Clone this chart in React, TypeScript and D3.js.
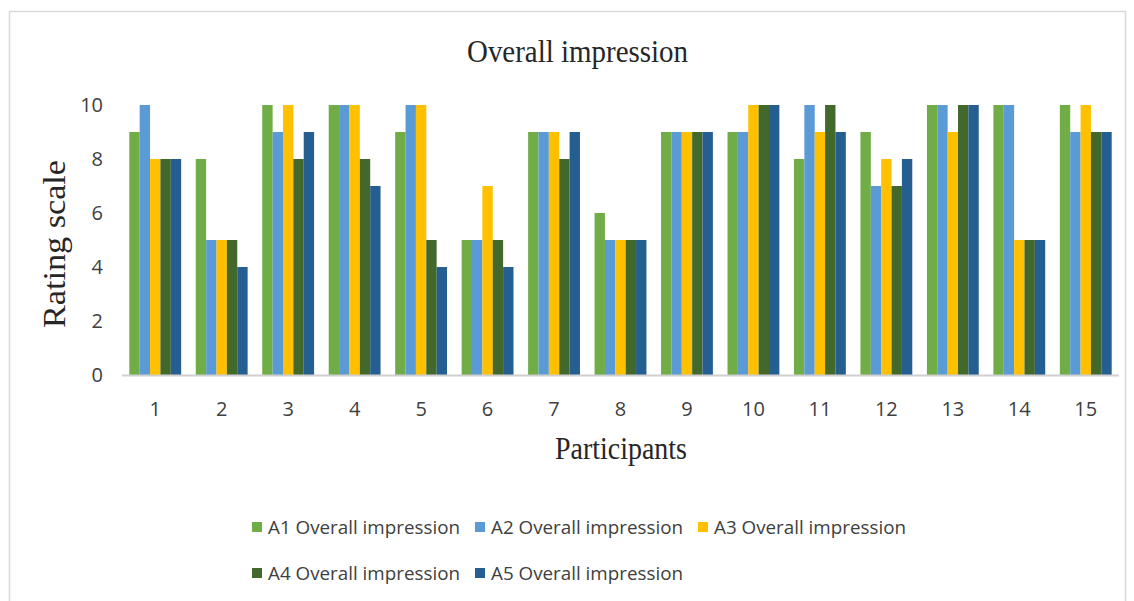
import React from "react";
import * as d3 from "d3";

const participants = ["1","2","3","4","5","6","7","8","9","10","11","12","13","14","15"];
const seriesNames = ["A1 Overall impression","A2 Overall impression","A3 Overall impression","A4 Overall impression","A5 Overall impression"];
const a1 = [9, 8, 10, 10, 9, 5, 9, 6, 9, 9, 8, 9, 10, 10, 10];
const a2 = [10, 5, 9, 10, 10, 5, 9, 5, 9, 9, 10, 7, 10, 10, 9];
const a3 = [8, 5, 10, 10, 10, 7, 9, 5, 9, 10, 9, 8, 9, 5, 10];
const a4 = [8, 5, 8, 8, 5, 5, 8, 5, 9, 10, 10, 7, 10, 5, 9];
const a5 = [8, 4, 9, 7, 4, 4, 9, 5, 9, 10, 9, 8, 10, 5, 9];
const yTicks = [0, 2, 4, 6, 8, 10];
const colors = ["#70ad47", "#5b9bd5", "#ffc000", "#43682b", "#255e91"];

const W = 1134, H = 601;
const sans = "'Open Sans', 'Liberation Sans', sans-serif";
const serif = "'Liberation Serif', 'DejaVu Serif', serif";

export default function App() {
  const series = [a1, a2, a3, a4, a5];
  const x = d3.scaleBand<string>().domain(participants).range([122, 1119]).paddingInner(0.22).paddingOuter(0.11);
  const xi = d3.scaleBand<number>().domain(d3.range(5)).range([0, x.bandwidth()]);
  const y = d3.scaleLinear().domain([0, 10]).range([375, 105]);

  const legendRows = [
    [{ i: 0, x: 252 }, { i: 1, x: 475 }, { i: 2, x: 698 }],
    [{ i: 3, x: 252 }, { i: 4, x: 475 }],
  ];
  const legendY = [527, 573];

  return (
    <svg width={W} height={H} style={{ position: "absolute", left: 0, top: 0, background: "#fff" }}>
      <rect x={0} y={0} width={W} height={H} fill="#fff" />
      <path d={`M9.5,${H} V11.5 H1125.5 V${H}`} fill="none" stroke="#d9d9d9" strokeWidth={1.5} />
      <text x={577.5} y={62} textAnchor="middle" fontFamily={serif} fontSize={32} fill="#262626" textLength={221} lengthAdjust="spacingAndGlyphs">Overall impression</text>

      {yTicks.map(t => (
        <text key={t} x={103} y={y(t)} dy="0.35em" textAnchor="end" fontFamily={sans} fontSize={20} fill="#404040">{t}</text>
      ))}

      {series.map((vals, si) => (
        <g key={si}>
          {vals.map((v, pi) => (
            <rect key={pi}
              x={(x(participants[pi]) as number) + (xi(si) as number)}
              y={y(v)}
              width={xi.bandwidth()}
              height={y(0) - y(v)}
              fill={colors[si]} />
          ))}
        </g>
      ))}

      <line x1={122} x2={1119} y1={375.5} y2={375.5} stroke="#d0d0d0" strokeWidth={2} />

      {participants.map(p => (
        <text key={p} x={(x(p) as number) + x.bandwidth() / 2} y={416} textAnchor="middle" fontFamily={sans} fontSize={20} fill="#404040">{p}</text>
      ))}

      <text transform={`translate(65,244) rotate(-90)`} textAnchor="middle" fontFamily={serif} fontSize={31} fill="#262626" textLength={168} lengthAdjust="spacingAndGlyphs">Rating scale</text>
      <text x={621} y={459} textAnchor="middle" fontFamily={serif} fontSize={32} fill="#262626" textLength={132} lengthAdjust="spacingAndGlyphs">Participants</text>

      {legendRows.map((row, ri) => (
        <g key={ri}>
          {row.map(({ i, x: lx }) => (
            <g key={i}>
              <rect x={lx} y={legendY[ri] - 5} width={10} height={10} fill={colors[i]} />
              <text x={lx + 16} y={legendY[ri]} dy="0.35em" fontFamily={sans} fontSize={19} fill="#404040" textLength={192} lengthAdjust="spacingAndGlyphs">{seriesNames[i]}</text>
            </g>
          ))}
        </g>
      ))}
    </svg>
  );
}
